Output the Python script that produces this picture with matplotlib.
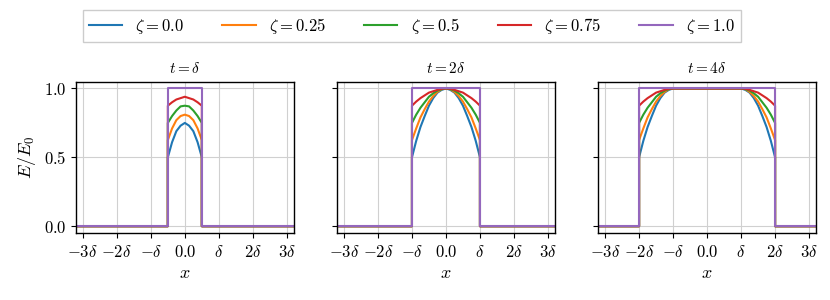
import numpy as np
import matplotlib
matplotlib.use("Agg")
import matplotlib.pyplot as plt

plt.rcParams['mathtext.fontset'] = 'cm'
plt.rcParams['font.size'] = 12

# values
zetas = [0.0, 0.25, 0.5, 0.75, 1.0]
zeta_labels = [r'$\zeta = 0.0$', r'$\zeta = 0.25$', r'$\zeta = 0.5$',
               r'$\zeta = 0.75$', r'$\zeta = 1.0$']
titles = [r'$t=\delta$', r'$t=2\delta$', r'$t=4\delta$']
xtick_vals = [-3, -2, -1, 0, 1, 2, 3]
xtick_labels = [r'$-3\delta$', r'$-2\delta$', r'$-\delta$', r'$0.0$',
                r'$\delta$', r'$2\delta$', r'$3\delta$']

# pulse edge (+/-) per panel
edges = [0.5, 1.0, 2.0]

# left half of each profile, from the left edge inward (x in units of delta)
half_x_1 = [-0.5, -0.375, -0.25, -0.125, 0.0]
half_x_2 = [-1.0, -0.875, -0.75, -0.625, -0.5, -0.375, -0.25, -0.125, 0.0]
half_x_3 = [-2.0, -1.875, -1.75, -1.625, -1.5, -1.375, -1.25, -1.125, -1.0]

# E/E0 along the half profile, for zeta = 0, 0.25, 0.5, 0.75
half_y_1 = [
    [0.50, 0.61, 0.69, 0.73, 0.75],
    [0.625, 0.71, 0.77, 0.80, 0.81],
    [0.75, 0.80, 0.84, 0.87, 0.875],
    [0.875, 0.90, 0.92, 0.93, 0.94],
]
half_y_2 = [
    [0.50, 0.62, 0.72, 0.80, 0.875, 0.93, 0.97, 0.99, 1.0],
    [0.625, 0.71, 0.79, 0.85, 0.905, 0.945, 0.975, 0.995, 1.0],
    [0.75, 0.81, 0.86, 0.90, 0.94, 0.965, 0.985, 0.995, 1.0],
    [0.875, 0.905, 0.93, 0.95, 0.97, 0.98, 0.99, 0.998, 1.0],
]
half_y_3 = half_y_2  # same edge shape, shifted to +/-2 delta

half_xs = [half_x_1, half_x_2, half_x_3]
half_ys = [half_y_1, half_y_2, half_y_3]

xmin, xmax = -3.2, 3.2


def full_curve(hx, hy, edge):
    hx = list(hx)
    hy = list(hy)
    if hx[-1] == 0.0:
        rx = [-v for v in hx[-2::-1]]
        ry = hy[-2::-1]
    else:
        rx = [-v for v in hx[::-1]]
        ry = hy[::-1]
    x = [xmin, -edge] + hx + rx + [edge, xmax]
    y = [0.0, 0.0] + hy + ry + [0.0, 0.0]
    return np.array(x), np.array(y)


fig, axes = plt.subplots(1, 3, figsize=(8.3, 3.0), dpi=100, sharey=True)
plt.subplots_adjust(left=0.0916, right=0.983, bottom=0.223, top=0.728, wspace=0.2)

colors = ['C0', 'C1', 'C2', 'C3', 'C4']
handles = []
for p, ax in enumerate(axes):
    ax.grid(True, color='#d0d0d0', linewidth=0.8)
    ax.set_axisbelow(True)
    for k in range(4):
        x, y = full_curve(half_xs[p], half_ys[p][k], edges[p])
        ln, = ax.plot(x, y, color=colors[k], lw=1.5, label=zeta_labels[k])
        if p == 0:
            handles.append(ln)
    e = edges[p]
    ln, = ax.plot([xmin, -e, -e, e, e, xmax], [0, 0, 1, 1, 0, 0],
                  color=colors[4], lw=1.5, label=zeta_labels[4])
    if p == 0:
        handles.append(ln)

    ax.set_xlim(xmin, xmax)
    ax.set_ylim(-0.05, 1.05)
    ax.set_xticks(xtick_vals)
    ax.set_xticklabels(xtick_labels)
    ax.set_yticks([0.0, 0.5, 1.0])
    ax.set_yticklabels([r'$0.0$', r'$0.5$', r'$1.0$'])
    ax.tick_params(labelsize=12)
    ax.set_title(titles[p], fontsize=11, pad=6)
    ax.set_xlabel(r'$x$', fontsize=13, labelpad=2)
    for s in ax.spines.values():
        s.set_linewidth(1.0)

axes[0].set_ylabel(r'$E/E_0$', fontsize=13)

fig.legend(handles=handles, loc='center', ncol=5, bbox_to_anchor=(0.496, 0.913),
           frameon=True, fancybox=False, edgecolor='#cccccc', framealpha=1,
           fontsize=12, columnspacing=2.3, borderpad=0.35)

fig.savefig('out.png', dpi=100)
